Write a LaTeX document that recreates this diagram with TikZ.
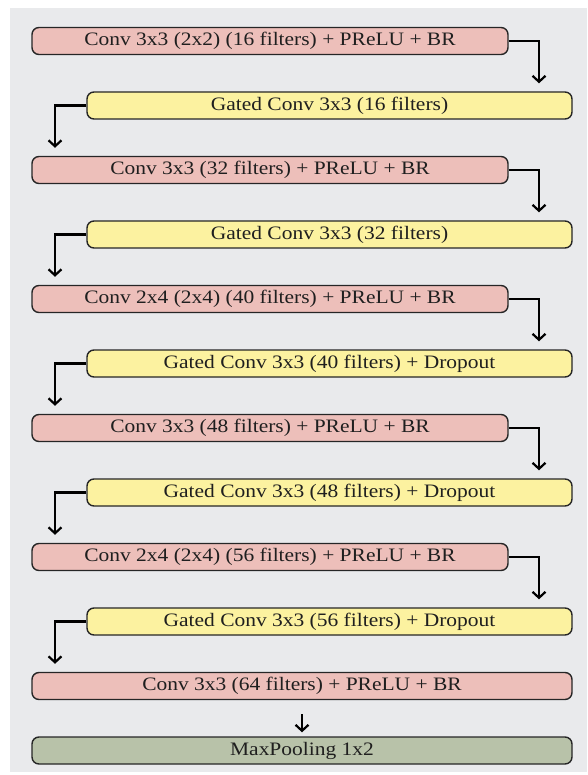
\documentclass[tikz,border=0pt]{standalone}
\usepackage{fontspec}
\setmainfont[FakeStretch=1.13]{Liberation Serif}
\usetikzlibrary{arrows.meta}
\definecolor{bgc}{HTML}{E9EAEC}
\definecolor{redc}{HTML}{EDBFBA}
\definecolor{yelc}{HTML}{FCF2A0}
\definecolor{grnc}{HTML}{B8C2A9}
\definecolor{edgec}{HTML}{262626}
\tikzset{
  boxbase/.style={draw=edgec, line width=1.4pt, rounded corners=7pt, minimum height=27pt, inner sep=0pt,
    font=\fontsize{19}{21}\selectfont, text=black!88},
  redbox/.style={boxbase, fill=redc, minimum width=476pt},
  yelbox/.style={boxbase, fill=yelc, minimum width=485pt},
  widebox/.style={boxbase, minimum width=540pt},
  conn/.style={draw=black, line width=2.4pt, -{Straight Barb[length=6pt,width=13pt,line width=2.2pt]}},
}
\begin{document}
\begin{tikzpicture}[x=1pt,y=-1pt]
\useasboundingbox (0,0) rectangle (587,775);
\fill[bgc] (10,8) rectangle (587,772);
\coordinate (rx) at (539,0);
\coordinate (lx) at (55,0);
\node[redbox] (r1) at (270,41) {Conv 3x3 (2x2) (16 filters) + PReLU + BR};
\node[yelbox] (y1) at (329.5,105.5) {Gated Conv 3x3 (16 filters)};
\node[redbox] (r2) at (270,170) {Conv 3x3 (32 filters) + PReLU + BR};
\node[yelbox] (y2) at (329.5,234.5) {Gated Conv 3x3 (32 filters)};
\node[redbox] (r3) at (270,299) {Conv 2x4 (2x4) (40 filters) + PReLU + BR};
\node[yelbox] (y3) at (329.5,363.5) {Gated Conv 3x3 (40 filters) + Dropout};
\node[redbox] (r4) at (270,428) {Conv 3x3 (48 filters) + PReLU + BR};
\node[yelbox] (y4) at (329.5,492.5) {Gated Conv 3x3 (48 filters) + Dropout};
\node[redbox] (r5) at (270,557) {Conv 2x4 (2x4) (56 filters) + PReLU + BR};
\node[yelbox] (y5) at (329.5,621.5) {Gated Conv 3x3 (56 filters) + Dropout};
\node[widebox, fill=redc] (r6) at (302,686) {Conv 3x3 (64 filters) + PReLU + BR};
\node[widebox, fill=grnc] (g1) at (302,750.5) {MaxPooling 1x2};
\foreach \a/\b in {r1/y1,r2/y2,r3/y3,r4/y4,r5/y5}{
  \draw[conn, shorten >=8pt] (\a.east) -| (\b.north -| rx);
}
\foreach \a/\b in {y1/r2,y2/r3,y3/r4,y4/r5,y5/r6}{
  \draw[conn, shorten >=8pt] (\a.west) -| (\b.north -| lx);
}
\draw[conn, shorten <=14pt, shorten >=4pt] (r6.south) -- (g1.north);
\end{tikzpicture}
\end{document}
